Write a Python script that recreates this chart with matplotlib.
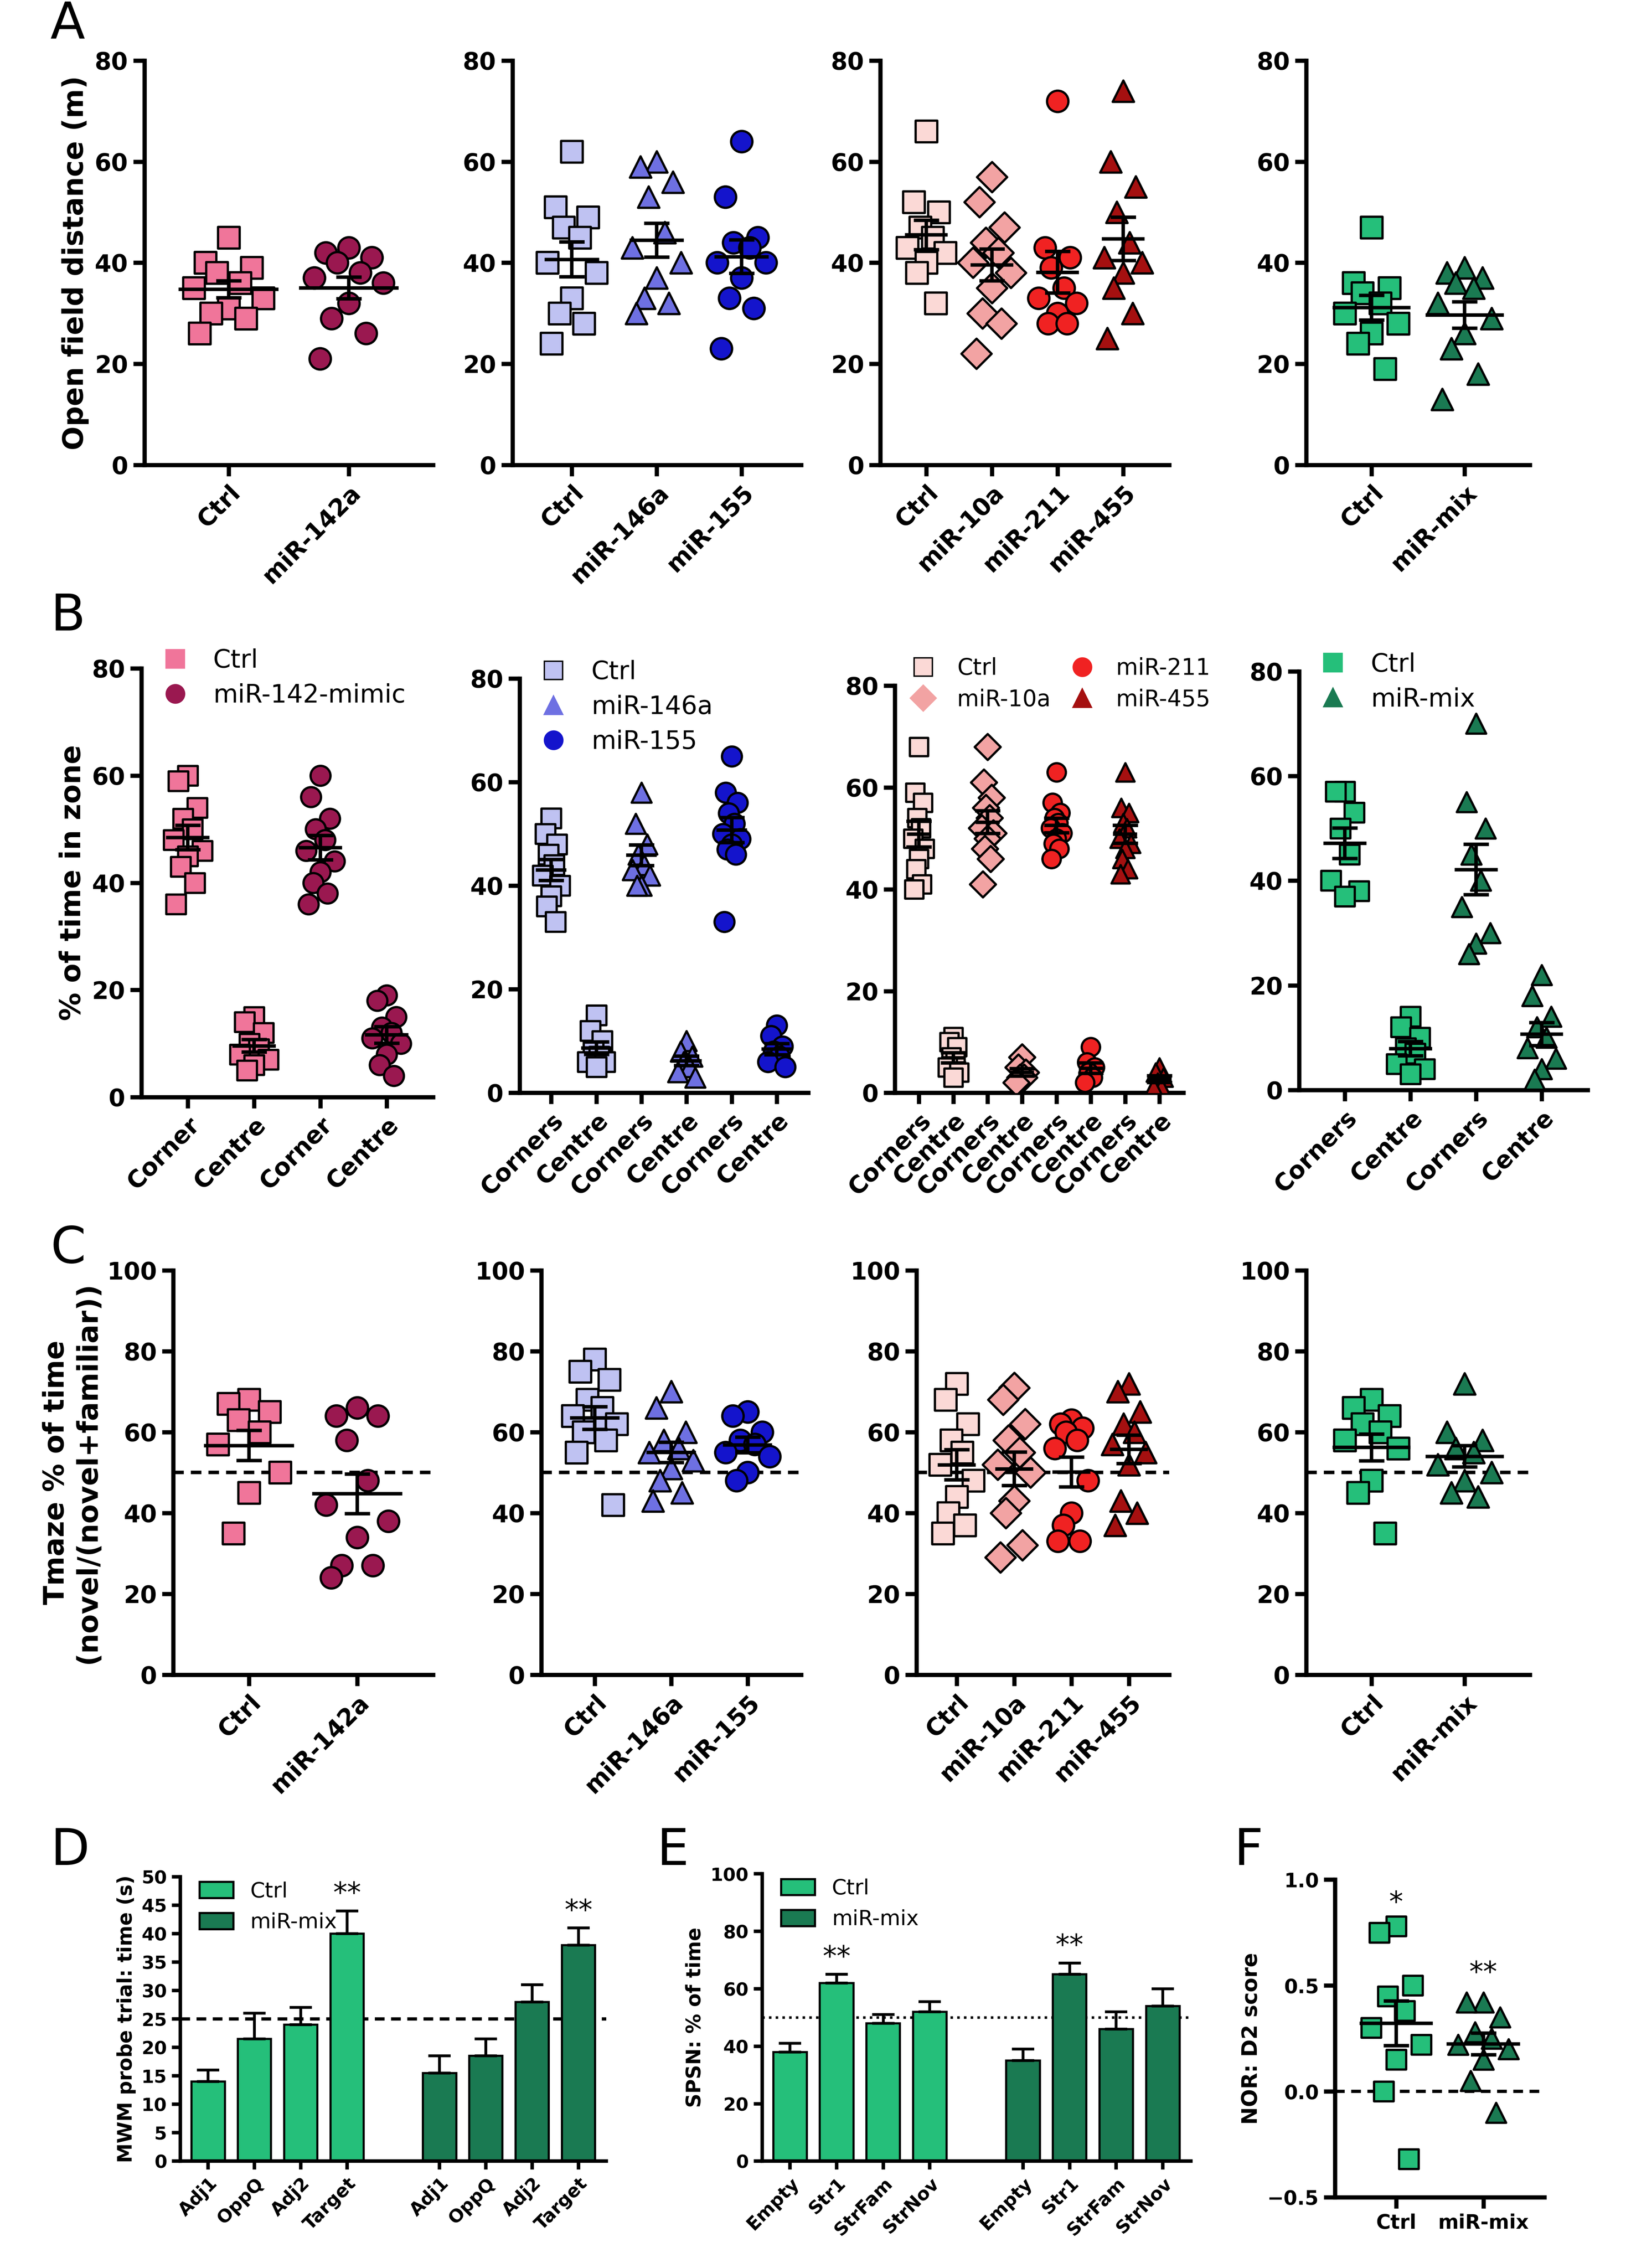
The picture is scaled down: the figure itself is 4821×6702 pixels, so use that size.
import numpy as np
import matplotlib
matplotlib.use("Agg")
import matplotlib.pyplot as plt
from matplotlib.lines import Line2D

plt.rcParams['font.family'] = ['DejaVu Sans']
plt.rcParams['font.weight'] = 'bold'
plt.rcParams['axes.labelweight'] = 'bold'

W, H = 1130.0, 1571.0

# ---- colours ----
PINK, MAROON = '#f0759a', '#9a1850'
LAV, PERI, BLUE = '#bfc2f2', '#6e70e2', '#1414cc'
LPINK, SALMON, RED, DRED = '#fbd9d6', '#f2a3a3', '#f02222', '#a51010'
GREEN, DGREEN = '#25bf7a', '#1a7a52'

# ---- panel A: open field distance ----
a1_labels = ['Ctrl', 'miR-142a']
a1_ctrl = [45, 40, 39, 38, 36, 35, 33, 31, 30, 29, 26]
a1_142 = [43, 42, 41, 40, 38, 37, 36, 32, 29, 26, 21]
a2_labels = ['Ctrl', 'miR-146a', 'miR-155']
a2_ctrl = [62, 51, 49, 47, 45, 40, 38, 33, 30, 28, 24]
a2_146 = [60, 59, 56, 53, 46, 43, 40, 37, 33, 32, 30]
a2_155 = [64, 53, 45, 44, 43, 40, 40, 37, 33, 31, 23]
a3_labels = ['Ctrl', 'miR-10a', 'miR-211', 'miR-455']
a3_ctrl = [66, 52, 50, 47, 45, 43, 42, 40, 38, 32]
a3_10 = [57, 52, 47, 44, 42, 40, 38, 35, 30, 28, 22]
a3_211 = [72, 43, 41, 39, 35, 33, 32, 30, 28, 28]
a3_455 = [74, 60, 55, 50, 44, 41, 40, 38, 35, 30, 25]
a4_labels = ['Ctrl', 'miR-mix']
a4_ctrl = [47, 36, 35, 34, 32, 30, 28, 26, 24, 19]
a4_mix = [39, 38, 37, 36, 35, 32, 29, 26, 23, 18, 13]

# ---- panel B: % time in zone ----
b1_labels = ['Corner', 'Centre', 'Corner', 'Centre']
b1 = [[60, 59, 54, 52, 50, 48, 46, 45, 43, 40, 36],
      [15, 14, 12, 10, 9, 8, 7, 6, 5],
      [60, 56, 52, 50, 48, 46, 44, 42, 40, 38, 36],
      [19, 18, 15, 13, 12, 11, 10, 8, 6, 4]]
b2_labels = ['Corners', 'Centre'] * 3
b2 = [[53, 50, 48, 46, 44, 42, 40, 38, 36, 33],
      [15, 12, 10, 8, 7, 6, 6, 5],
      [58, 52, 48, 46, 44, 43, 42, 40, 40],
      [10, 8, 7, 6, 5, 4, 3],
      [65, 58, 56, 54, 52, 50, 49, 48, 47, 46, 33],
      [13, 11, 9, 8, 7, 6, 5]]
b3_labels = ['Corners', 'Centre'] * 4
b3 = [[68, 59, 57, 54, 52, 50, 48, 46, 44, 41, 40],
      [11, 10, 9, 7, 6, 5, 4, 3],
      [68, 61, 58, 56, 54, 52, 51, 50, 48, 46, 41],
      [7, 5, 4, 3, 3, 2],
      [63, 57, 55, 54, 53, 52, 51, 50, 49, 48, 46],
      [9, 6, 5, 4, 3, 2],
      [63, 56, 55, 53, 52, 50, 49, 48, 46, 44, 43],
      [5, 4, 3, 2, 1, 1]]
b4_labels = ['Corners', 'Centre'] * 2
b4 = [[57, 57, 53, 50, 45, 40, 38, 37],
      [14, 12, 10, 8, 7, 5, 4, 3],
      [70, 55, 50, 45, 40, 35, 30, 28, 26],
      [22, 18, 14, 12, 10, 8, 6, 4, 2]]

# ---- panel C: T-maze ----
c1_ctrl = [68, 67, 65, 63, 60, 57, 50, 45, 35]
c1_142 = [66, 64, 64, 58, 48, 42, 38, 34, 27, 27, 24]
c2_ctrl = [78, 75, 73, 68, 66, 64, 62, 61, 60, 58, 55, 42]
c2_146 = [70, 66, 60, 58, 56, 55, 53, 51, 48, 45, 43]
c2_155 = [65, 64, 60, 58, 57, 55, 54, 50, 48]
c3_ctrl = [72, 68, 62, 58, 55, 52, 48, 44, 40, 37, 35]
c3_10 = [71, 68, 62, 58, 55, 52, 50, 43, 40, 32, 29]
c3_211 = [63, 62, 61, 60, 58, 56, 48, 40, 37, 33, 33]
c3_455 = [72, 70, 65, 62, 60, 57, 55, 52, 43, 40, 37]
c4_ctrl = [68, 66, 64, 62, 60, 58, 56, 48, 45, 35]
c4_mix = [72, 60, 58, 56, 55, 52, 50, 48, 45, 44]

# ---- panel D: MWM ----
d_labels = ['Adj1', 'OppQ', 'Adj2', 'Target']
d_ctrl = [14, 21.5, 24, 40]
d_ctrl_err = [2, 4.5, 3, 4]
d_mix = [15.5, 18.5, 28, 38]
d_mix_err = [3, 3, 3, 3]

# ---- panel E: SPSN ----
e_labels = ['Empty', 'Str1', 'StrFam', 'StrNov']
e_ctrl = [38, 62, 48, 52]
e_ctrl_err = [3, 3, 3, 3.5]
e_mix = [35, 65, 46, 54]
e_mix_err = [4, 4, 6, 6]

# ---- panel F: NOR ----
f_labels = ['Ctrl', 'miR-mix']
f_ctrl = [0.78, 0.75, 0.5, 0.45, 0.38, 0.3, 0.22, 0.15, 0.0, -0.32]
f_mix = [0.42, 0.42, 0.35, 0.28, 0.25, 0.22, 0.2, 0.15, 0.05, -0.1]

fig = plt.figure(figsize=(4821 / 300, 6702 / 300), dpi=300)


def add_ax(x0, y0, x1, y1):
    return fig.add_axes([x0 / W, 1 - y1 / H, (x1 - x0) / W, (y1 - y0) / H])


def style(ax, n, labels, rot=45, fs=17):
    for s in ['top', 'right']:
        ax.spines[s].set_visible(False)
    ax.spines['left'].set_linewidth(3)
    ax.spines['bottom'].set_linewidth(3)
    ax.tick_params(width=3, length=8, labelsize=17)
    ax.set_xticks(range(n))
    ax.set_xticklabels(labels, rotation=rot, ha='right', rotation_mode='anchor',
                       fontsize=fs, fontweight='bold')
    ax.set_xlim(-0.7, n - 0.3)
    ax.spines['bottom'].set_bounds(-0.7, n - 0.3)
    for t in ax.get_yticklabels():
        t.set_fontweight('bold')


OFFS = [0, -0.16, 0.16, -0.08, 0.08, -0.24, 0.24, 0, -0.12, 0.12, -0.2, 0.2]


def colscatter(ax, groups, colors, markers, ms=230, err=True, positions=None, spread=1.2, mw=0.3):
    if positions is None:
        positions = range(len(groups))
    for x, g, c, m in zip(positions, groups, colors, markers):
        g = np.array(g, float)
        xs = [x + OFFS[i % len(OFFS)] * spread for i in range(len(g))]
        ax.scatter(xs, g, s=ms, c=c, marker=m, edgecolors='black', linewidths=1.6, zorder=3)
        if err:
            mu = g.mean()
            se = g.std(ddof=1) / np.sqrt(len(g))
            ax.plot([x - mw, x + mw], [mu, mu], color='black', lw=2.5, zorder=4)
            ax.errorbar(x, mu, yerr=se, color='black', capsize=9, capthick=2.5, lw=2.5, zorder=4)


def letter(x, y, s):
    fig.text(x / W, 1 - y / H, s, fontsize=36, fontweight='normal', va='top', ha='left')


SQ, CI, TR, DI = 's', 'o', '^', 'D'

# ================= Row A =================
ax = add_ax(100, 42, 300, 322)
colscatter(ax, [a1_ctrl, a1_142], [PINK, MAROON], [SQ, CI], mw=0.4)
style(ax, 2, a1_labels)
ax.set_ylim(0, 80); ax.set_yticks(range(0, 81, 20))
ax.set_ylabel('Open field distance (m)', fontsize=20)

ax = add_ax(355, 42, 555, 322)
colscatter(ax, [a2_ctrl, a2_146, a2_155], [LAV, PERI, BLUE], [SQ, TR, CI])
style(ax, 3, a2_labels)
ax.set_ylim(0, 80); ax.set_yticks(range(0, 81, 20))

ax = add_ax(610, 42, 810, 322)
colscatter(ax, [a3_ctrl, a3_10, a3_211, a3_455], [LPINK, SALMON, RED, DRED], [SQ, DI, CI, TR])
style(ax, 4, a3_labels)
ax.set_ylim(0, 80); ax.set_yticks(range(0, 81, 20))

ax = add_ax(905, 42, 1060, 322)
colscatter(ax, [a4_ctrl, a4_mix], [GREEN, DGREEN], [SQ, TR], mw=0.4)
style(ax, 2, a4_labels)
ax.set_ylim(0, 80); ax.set_yticks(range(0, 81, 20))
letter(35, 0, 'A')


def legend(ax, items, ncol=1, y=1.1, fs=18, cs=0.8):
    hs = [Line2D([], [], ls='', marker=m, markersize=13, markerfacecolor=c,
                 markeredgecolor='black' if c in (LPINK, LAV) else c, label=l) for l, c, m in items]
    ax.legend(handles=hs, ncol=ncol, loc='upper left', bbox_to_anchor=(-0.05, y), frameon=False,
              handletextpad=0.5, labelspacing=0.4, columnspacing=cs,
              prop={'size': fs, 'weight': 'normal'})


# ================= Row B =================
ax = add_ax(98, 463, 300, 760)
colscatter(ax, b1, [PINK, PINK, MAROON, MAROON], [SQ, SQ, CI, CI], ms=200, spread=0.9)
style(ax, 4, b1_labels)
ax.set_ylim(0, 80); ax.set_yticks(range(0, 81, 20))
ax.set_ylabel('% of time in zone', fontsize=20)
legend(ax, [('Ctrl', PINK, SQ), ('miR-142-mimic', MAROON, CI)])

ax = add_ax(360, 470, 560, 757)
colscatter(ax, b2, [LAV, LAV, PERI, PERI, BLUE, BLUE], [SQ, SQ, TR, TR, CI, CI], ms=200, spread=0.8)
style(ax, 6, b2_labels)
ax.set_ylim(0, 80); ax.set_yticks(range(0, 81, 20))
legend(ax, [('Ctrl', LAV, SQ), ('miR-146a', PERI, TR), ('miR-155', BLUE, CI)])

ax = add_ax(620, 475, 820, 757)
colscatter(ax, b3, [LPINK, LPINK, SALMON, SALMON, RED, RED, DRED, DRED],
           [SQ, SQ, DI, DI, CI, CI, TR, TR], ms=170, spread=0.7)
style(ax, 8, b3_labels)
ax.set_ylim(0, 80); ax.set_yticks(range(0, 81, 20))
legend(ax, [('Ctrl', LPINK, SQ), ('miR-10a', SALMON, DI), ('miR-211', RED, CI), ('miR-455', DRED, TR)],
       ncol=2, y=1.12, fs=16, cs=0.4)

ax = add_ax(900, 465, 1100, 755)
colscatter(ax, b4, [GREEN, GREEN, DGREEN, DGREEN], [SQ, SQ, TR, TR], ms=200, spread=0.9)
style(ax, 4, b4_labels)
ax.set_ylim(0, 80); ax.set_yticks(range(0, 81, 20))
legend(ax, [('Ctrl', GREEN, SQ), ('miR-mix', DGREEN, TR)])
letter(35, 410, 'B')

# ================= Row C =================
def crow(ax):
    ax.set_ylim(0, 100); ax.set_yticks(range(0, 101, 20))
    ax.axhline(50, ls=(0, (3, 2)), color='black', lw=2.5, zorder=1)

ax = add_ax(120, 880, 300, 1160)
colscatter(ax, [c1_ctrl, c1_142], [PINK, MAROON], [SQ, CI], mw=0.4)
style(ax, 2, a1_labels); crow(ax)
ax.set_ylabel('Tmaze % of time\n(novel/(novel+familiar))', fontsize=20)

ax = add_ax(375, 880, 555, 1160)
colscatter(ax, [c2_ctrl, c2_146, c2_155], [LAV, PERI, BLUE], [SQ, TR, CI])
style(ax, 3, a2_labels); crow(ax)

ax = add_ax(635, 880, 810, 1160)
colscatter(ax, [c3_ctrl, c3_10, c3_211, c3_455], [LPINK, SALMON, RED, DRED], [SQ, DI, CI, TR])
style(ax, 4, a3_labels); crow(ax)

ax = add_ax(905, 880, 1060, 1160)
colscatter(ax, [c4_ctrl, c4_mix], [GREEN, DGREEN], [SQ, TR], mw=0.4)
style(ax, 2, a4_labels); crow(ax)
letter(35, 848, 'C')


# ================= Row D/E (bars) =================
def bars(ax, ctrl, cerr, mix, merr, labels, ymax, step, ref, ls, stars, ylabel):
    n = len(labels)
    xc = np.arange(n)
    xm = np.arange(n) + n + 1
    ax.bar(xc, ctrl, 0.72, color=GREEN, edgecolor='black', lw=1.5, label='Ctrl', zorder=2)
    ax.bar(xm, mix, 0.72, color=DGREEN, edgecolor='black', lw=1.5, label='miR-mix', zorder=2)
    ax.errorbar(xc, ctrl, yerr=[np.zeros(n), cerr], fmt='none', ecolor='black', capsize=8, lw=2, capthick=2)
    ax.errorbar(xm, mix, yerr=[np.zeros(n), merr], fmt='none', ecolor='black', capsize=8, lw=2, capthick=2)
    ax.axhline(ref, ls=ls, color='black', lw=1.8 if ls == ':' else 2.3, zorder=1)
    for i in stars:
        ax.text(xc[i], ctrl[i] + cerr[i] + ymax * 0.01, '**', ha='center', va='bottom', fontsize=20, fontweight='normal')
        ax.text(xm[i], mix[i] + merr[i] + ymax * 0.01, '**', ha='center', va='bottom', fontsize=20, fontweight='normal')
    for s in ['top', 'right']:
        ax.spines[s].set_visible(False)
    ax.spines['left'].set_linewidth(2.5)
    ax.spines['bottom'].set_linewidth(2.5)
    ax.set_xticks(list(xc) + list(xm))
    ax.set_xticklabels(labels * 2, rotation=45, ha='right', rotation_mode='anchor', fontsize=13, fontweight='bold')
    ax.set_xlim(-0.6, xm[-1] + 0.6)
    ax.set_ylim(0, ymax); ax.set_yticks(np.arange(0, ymax + 0.1, step))
    ax.tick_params(width=2.5, length=6, labelsize=13)
    ax.set_ylabel(ylabel, fontsize=14)
    ax.legend(loc='upper left', bbox_to_anchor=(0.0, 1.05), frameon=False, prop={'size': 15, 'weight': 'normal'},
              handlelength=1.6, handleheight=0.8)


ax = add_ax(125, 1300, 420, 1497)
bars(ax, d_ctrl, d_ctrl_err, d_mix, d_mix_err, d_labels, 50, 5, 25, (0, (3, 2)), [3], 'MWM probe trial: time (s)')
letter(35, 1265, 'D')

ax = add_ax(528, 1298, 825, 1497)
bars(ax, e_ctrl, e_ctrl_err, e_mix, e_mix_err, e_labels, 100, 20, 50, ':', [1], 'SPSN: % of time')
letter(455, 1265, 'E')

# ================= F =================
ax = add_ax(925, 1302, 1070, 1522)
colscatter(ax, [f_ctrl, f_mix], [GREEN, DGREEN], [SQ, TR], ms=200, mw=0.4)
style(ax, 2, f_labels, rot=0, fs=15)
for t in ax.get_xticklabels():
    t.set_ha('center')
ax.set_ylim(-0.5, 1.0); ax.set_yticks([-0.5, 0.0, 0.5, 1.0])
ax.tick_params(labelsize=14)
ax.axhline(0, ls=(0, (3, 2)), color='black', lw=2.3, zorder=1)
ax.set_ylabel('NOR: D2 score', fontsize=15)
ax.text(0, 0.85, '*', ha='center', fontsize=20, fontweight='normal')
ax.text(1, 0.52, '**', ha='center', fontsize=20, fontweight='normal')
letter(855, 1265, 'F')

fig.savefig('out.png', dpi=300)
